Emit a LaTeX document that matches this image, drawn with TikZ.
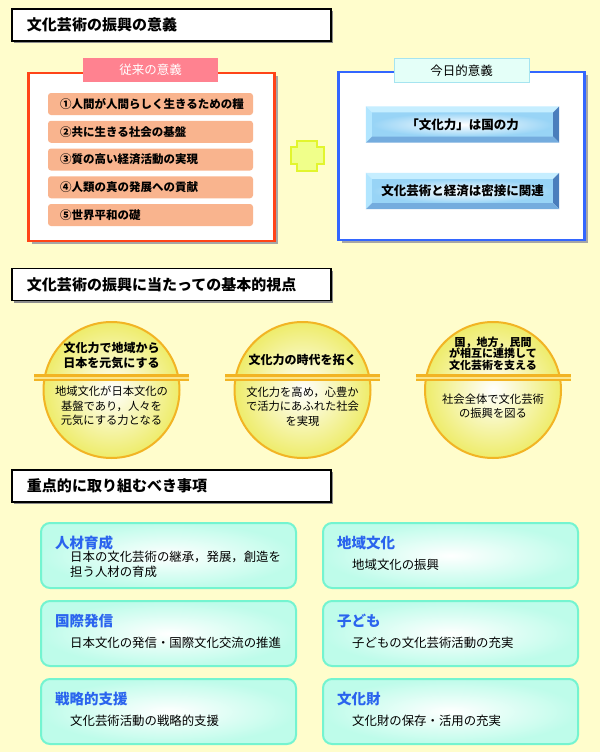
\documentclass[tikz,border=0pt]{standalone}
\usepackage{fontspec}
\setmainfont{Noto Sans CJK JP}
\usetikzlibrary{shadows}
\definecolor{paper}{HTML}{FFFDCC}
\definecolor{redline}{HTML}{FF4418}
\definecolor{blueline}{HTML}{3366FF}
\definecolor{salmon}{HTML}{F9B48E}
\definecolor{pinktab}{HTML}{FF8290}
\definecolor{mintab}{HTML}{E4FFF8}
\definecolor{mintline}{HTML}{A6E4F0}
\definecolor{plusfill}{HTML}{F0FF8A}
\definecolor{plusline}{HTML}{E2F52E}
\definecolor{btnface}{HTML}{98D4F6}
\definecolor{bevlight}{HTML}{C6EEFF}
\definecolor{bevleft}{HTML}{B2E6FF}
\definecolor{bevdark}{HTML}{4A7DBC}
\definecolor{bevlow}{HTML}{74ACDE}
\definecolor{ringline}{HTML}{F2B424}
\definecolor{ringpale}{HTML}{FBE68C}
\definecolor{ringfill}{HTML}{EEEC6A}
\definecolor{aqualine}{HTML}{74F4D0}
\definecolor{aquafill}{HTML}{BEFCEA}
\definecolor{headblue}{HTML}{2A64EE}
\begin{document}
\begin{tikzpicture}[x=1pt,y=-1pt,
  titlebox/.style={draw=black,line width=1.2pt,fill=white,minimum width=319pt,minimum height=32pt,
    text width=289pt,align=left,inner sep=0pt,font=\fontsize{15}{18}\selectfont\bfseries,
    drop shadow={shadow xshift=2pt,shadow yshift=-2pt,fill=black!45,opacity=1}},
  framebox/.style={line width=2.5pt,fill=white,minimum width=246pt,minimum height=168pt,inner sep=0pt,
    drop shadow={shadow xshift=3pt,shadow yshift=-3pt,fill=black!35,opacity=1}},
  tab/.style={minimum width=135pt,minimum height=24pt,inner sep=0pt,font=\fontsize{12.5}{15}\selectfont},
  oldpoint/.style={fill=salmon,rounded corners=3pt,minimum width=205pt,minimum height=22pt,
    text width=181pt,align=left,inner sep=0pt,font=\fontsize{11.5}{14}\selectfont\bfseries},
  btn/.style={minimum width=181pt,minimum height=24pt,inner sep=0pt,inner color=white,outer color=btnface,
    font=\fontsize{12.5}{15}\selectfont\bfseries},
  ring/.style={circle,minimum size=136pt,inner sep=0pt,draw=ringline,line width=2pt,
    inner color=white,outer color=ringfill},
  ringhead/.style={align=center,font=\fontsize{12}{15}\selectfont\bfseries},
  ringbody/.style={align=center,font=\fontsize{11.3}{14.5}\selectfont},
  area/.style={rounded corners=9pt,draw=aqualine,line width=2pt,inner color=white,outer color=aquafill,
    minimum width=255pt,minimum height=65pt,inner sep=0pt},
  areahead/.style={anchor=west,inner sep=0pt,text=headblue,font=\fontsize{14.5}{17}\selectfont\bfseries},
  areabody/.style={anchor=west,inner sep=0pt,align=left,font=\fontsize{12.4}{15}\selectfont}]
\useasboundingbox (0,0) rectangle (600,752);
\fill[paper] (0,0) rectangle (600,752);

\node[titlebox] (meaning) at (171.5,25) {文化芸術の振興の意義};
\node[framebox,draw=redline] (oldframe) at (151.5,157) {};
\node[tab,fill=pinktab,text=white] (oldtab) at (150.5,70) {従来の意義};
\foreach \t [count=\i] in {①人間が人間らしく生きるための糧,②共に生きる社会の基盤,③質の高い経済活動の実現,④人類の真の発展への貢献,⑤世界平和の礎}
  \node[oldpoint] (old\i) at (150.5,{104+27.75*(\i-1)}) {\t};

\draw[plusline,fill=plusfill,line width=2pt] (297,141) -- (317,141) -- (317,147) -- (324,147) -- (324,164) -- (317,164)
  -- (317,171) -- (297,171) -- (297,164) -- (291,164) -- (291,147) -- (297,147) -- cycle;

\node[framebox,draw=blueline] (newframe) at (461.5,156) {};
\node[tab,fill=mintab,draw=mintline,line width=1pt] (newtab) at (461.5,70.5) {今日的意義};
\node[btn] (btnA) at (462.5,124.5) {「文化力」は国の力};
\node[btn] (btnB) at (462.5,191) {文化芸術と経済は密接に関連};
\foreach \b in {btnA,btnB} {
  \fill[bevlight] ([shift={(-6pt,6pt)}]\b.north west) -- ([shift={(6pt,6pt)}]\b.north east) -- (\b.north east) -- (\b.north west) -- cycle;
  \fill[bevleft] ([shift={(-6pt,6pt)}]\b.north west) -- ([shift={(-6pt,-6pt)}]\b.south west) -- (\b.south west) -- (\b.north west) -- cycle;
  \fill[bevdark] ([shift={(6pt,6pt)}]\b.north east) -- ([shift={(6pt,-6pt)}]\b.south east) -- (\b.south east) -- (\b.north east) -- cycle;
  \fill[bevlow] ([shift={(-6pt,-6pt)}]\b.south west) -- ([shift={(6pt,-6pt)}]\b.south east) -- (\b.south east) -- (\b.south west) -- cycle;
}

\node[titlebox] (viewpoint) at (171.5,284.5) {文化芸術の振興に当たっての基本的視点};
\foreach \x/\n in {111.5/A,302.5/B,493/C} {
  \node[ring] (view\n) at (\x,390) {};
  \fill[ringline] (\x-77.5,373.5) rectangle (\x+77.5,377);
  \fill[ringpale] (\x-77.5,377) rectangle (\x+77.5,379);
  \fill[ringline] (\x-77.5,379) rectangle (\x+77.5,381);
}
\node[ringhead] (viewAtop) at (111.5,356) {文化力で地域から\\日本を元気にする};
\node[ringbody] (viewAbot) at (111.5,406) {地域文化が日本文化の\\基盤であり，人々を\\元気にする力となる};
\node[ringhead] (viewBtop) at (302.5,360) {文化力の時代を拓く};
\node[ringbody] (viewBbot) at (302.5,406.5) {文化力を高め，心豊か\\で活力にあふれた社会\\を実現};
\node[ringhead,font=\fontsize{11}{11.5}\selectfont\bfseries] (viewCtop) at (493,353.5) {国，地方，民間\\が相互に連携して\\文化芸術を支える};
\node[ringbody] (viewCbot) at (493,406) {社会全体で文化芸術\\の振興を図る};

\node[titlebox] (priority) at (171.5,486) {重点的に取り組むべき事項};
\foreach \n/\x/\y/\h/\b in {
  areaA/168.5/555.5/人材育成/{日本の文化芸術の継承，発展，創造を\\担う人材の育成},
  areaB/450.5/555.5/地域文化/{地域文化の振興},
  areaC/168.5/633.5/国際発信/{日本文化の発信・国際文化交流の推進},
  areaD/450.5/633.5/子ども/{子どもの文化芸術活動の充実},
  areaE/168.5/711.5/戦略的支援/{文化芸術活動の戦略的支援},
  areaF/450.5/711.5/文化財/{文化財の保存・活用の充実}} {
  \node[area] (\n) at (\x,\y) {};
  \node[areahead] (\n-head) at (\x-113.5,\y-12.5) {\h};
  \node[areabody] (\n-body) at (\x-98.5,\y+9) {\b};
}
\end{tikzpicture}
\end{document}
